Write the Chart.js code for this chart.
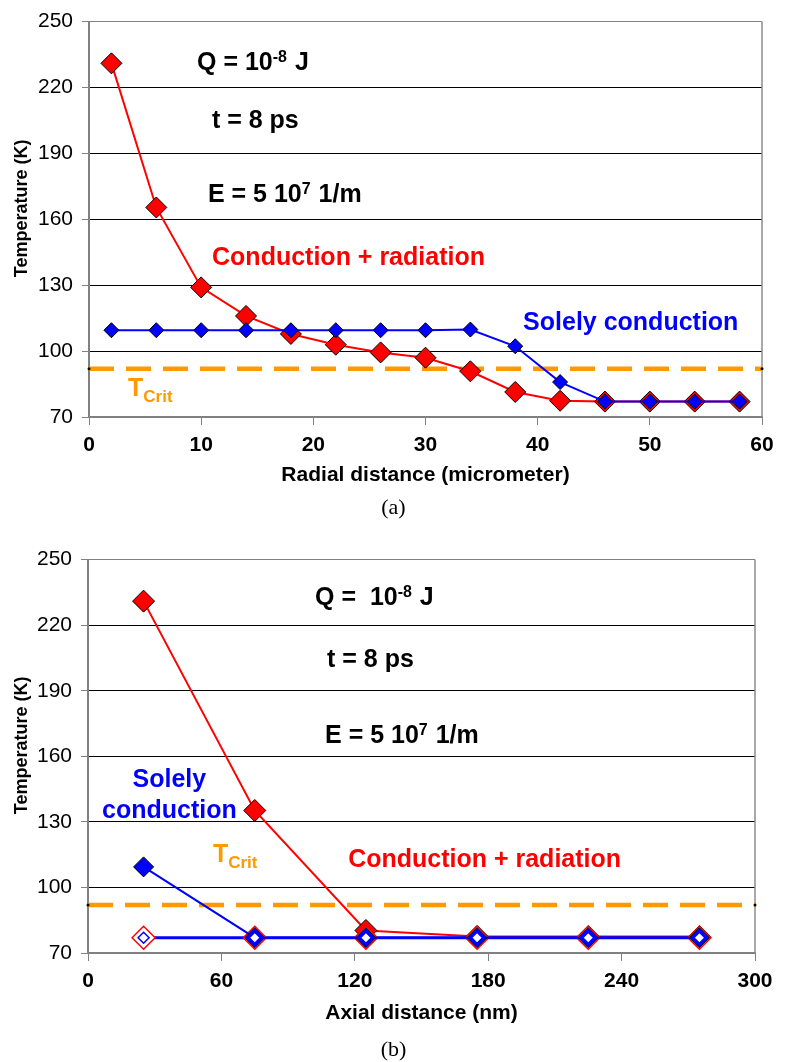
<!DOCTYPE html>
<html>
<head>
<meta charset="utf-8">
<script src="https://cdn.jsdelivr.net/npm/chart.js@4.4.1/dist/chart.umd.min.js"></script>
<style>
  body { margin: 0; background: #fff; width: 787px; height: 1062px; position: relative; overflow: hidden; }
  .panel { position: absolute; left: 0; width: 787px; height: 500px; }
  .panel canvas { display: block; }
  .caption { position: absolute; left: 0; width: 787px; text-align: center; line-height: 26px;
             font: 22px "Liberation Serif", "Times New Roman", serif; color: #000; }
</style>
</head>
<body>
<div class="panel" style="top:0"><canvas id="radial" width="787" height="500"></canvas></div>
<div class="caption" style="top:494px">(a)</div>
<div class="panel" style="top:538px"><canvas id="axial" width="787" height="500"></canvas></div>
<div class="caption" style="top:1036px">(b)</div>

<script>
const FONT = '"Liberation Sans", Arial, sans-serif';
const RED = '#ff0000';
const BLUE = '#0000ff';
const ORANGE = '#ff9900';

// (a) temperature along the radial direction, micrometer
const radialDistance = [2, 6, 10, 14, 18, 22, 26, 30, 34, 38, 42, 46, 50, 54, 58];
const radialWithRadiation = [231, 165.4, 129, 116, 107.8, 102.9, 99.4, 97, 90.8, 81.4, 77.4, 77, 77, 77, 77];
const radialConductionOnly = [109.5, 109.5, 109.5, 109.5, 109.5, 109.5, 109.5, 109.5, 109.8, 102.2, 85.9, 77, 77, 77, 77];
const radialTicks = [0, 10, 20, 30, 40, 50, 60];

// (b) temperature along the axis, nm
const axialDistance = [25, 75, 125, 175, 225, 275];
const axialWithRadiation = [231, 135.2, 80.3, 77.6, 77.5, 77.5];
const axialConductionOnly = [109.4, 77, 77, 77, 77, 77];
const axialStart = [77, 77, 77, 77, 77, 77];
const axialTicks = [0, 60, 120, 180, 240, 300];

const temperatureTicks = [70, 100, 130, 160, 190, 220, 250];
const criticalTemp = 92;

const pts = (xs, ys) => xs.map((x, i) => ({ x, y: ys[i] }));
const first = a => a[0];
const last = a => a[a.length - 1];

function diamonds(label, xs, ys, o) {
  return {
    label,
    data: pts(xs, ys),
    borderColor: o.line,
    borderWidth: o.lineWidth ?? 2,
    showLine: o.showLine ?? true,
    pointStyle: 'rectRot',
    pointRadius: o.radius,
    pointBackgroundColor: o.fill,
    pointBorderColor: o.edge ?? '#000',
    pointBorderWidth: o.edgeWidth ?? 1,
    order: o.order,
    clip: false
  };
}

function critLine(xTicks, order) {
  return {
    label: 'T crit',
    data: [{ x: first(xTicks), y: criticalTemp }, { x: last(xTicks), y: criticalTemp }],
    borderColor: ORANGE,
    borderWidth: 4.5,
    borderDash: [25, 12],
    pointRadius: 1.5,
    pointBackgroundColor: '#000',
    pointBorderWidth: 0,
    order,
    clip: false
  };
}

// text labels inside the plot, placed in data units
const notes = {
  id: 'notes',
  afterDatasetsDraw(chart, args, opts) {
    const { ctx, scales: { x, y } } = chart;
    ctx.save();
    ctx.textBaseline = 'alphabetic';
    ctx.textAlign = 'left';
    for (const n of opts.items) {
      const parts = n.parts.map(p => Array.isArray(p) ? { text: p[0], kind: p[1] } : { text: p, kind: null });
      const fontFor = k => k === 'sup' ? `bold 16px ${FONT}` : k === 'sub' ? `bold 17px ${FONT}` : `bold 25px ${FONT}`;
      let width = 0;
      for (const p of parts) { ctx.font = fontFor(p.kind); width += ctx.measureText(p.text).width; }
      let px = x.getPixelForValue(n.x);
      if (n.center) px -= width / 2;
      const base = y.getPixelForValue(n.y) + 9;
      ctx.fillStyle = n.color || '#000';
      for (const p of parts) {
        ctx.font = fontFor(p.kind);
        const dy = p.kind === 'sup' ? -8 : p.kind === 'sub' ? 6 : 0;
        ctx.fillText(p.text, px, base + dy);
        px += ctx.measureText(p.text).width + (p.kind === 'sup' ? 1 : 0);
      }
    }
    ctx.restore();
  }
};

// right-hand edge of the plot box and the rotated y-axis title
const frame = {
  id: 'frame',
  beforeDatasetsDraw(chart) {
    const { ctx, chartArea: a } = chart;
    ctx.save();
    ctx.strokeStyle = '#8c8c8c';
    ctx.lineWidth = 1.5;
    ctx.beginPath();
    ctx.moveTo(a.right, a.top);
    ctx.lineTo(a.right, a.bottom);
    ctx.stroke();
    ctx.restore();
  },
  afterDraw(chart, args, opts) {
    const { ctx, chartArea: a } = chart;
    ctx.save();
    ctx.translate(22, (a.top + a.bottom) / 2 - 11);
    ctx.rotate(-Math.PI / 2);
    ctx.font = `bold 18px ${FONT}`;
    ctx.fillStyle = '#000';
    ctx.textAlign = 'center';
    ctx.textBaseline = 'middle';
    ctx.fillText(opts.yTitle, 0, 0);
    ctx.restore();
  }
};

function makeChart(id, cfg) {
  const { datasets, xTicks, xTitle, yWidth, xHeight, padRight, items } = cfg;
  return new Chart(document.getElementById(id), {
    type: 'line',
    data: { datasets },
    options: {
      responsive: false,
      animation: false,
      devicePixelRatio: 1,
      layout: { autoPadding: false, padding: { top: 17, right: padRight, left: 0, bottom: 0 } },
      plugins: {
        legend: { display: false },
        tooltip: { enabled: false },
        notes: { items },
        frame: { yTitle: 'Temperature (K)' }
      },
      scales: {
        x: {
          type: 'linear',
          min: first(xTicks),
          max: last(xTicks),
          afterBuildTicks: s => { s.ticks = xTicks.map(v => ({ value: v })); },
          afterFit: s => { s.height = xHeight; },
          grid: { drawOnChartArea: false, tickLength: 8, color: '#808080' },
          border: { color: '#808080', width: 2 },
          ticks: { color: '#000', padding: 8, maxRotation: 0, font: { family: FONT, size: 21, weight: 'bold' } },
          title: { display: true, text: xTitle, color: '#000', padding: { top: 0, bottom: 12 },
                   font: { family: FONT, size: 21, weight: 'bold' } }
        },
        y: {
          type: 'linear',
          min: first(temperatureTicks),
          max: last(temperatureTicks),
          afterBuildTicks: s => { s.ticks = temperatureTicks.map(v => ({ value: v })); },
          afterFit: s => { s.width = yWidth; },
          grid: {
            color: c => c.tick && c.tick.value === last(temperatureTicks) ? '#808080' : '#000',
            tickColor: '#808080',
            tickLength: 7
          },
          border: { color: '#808080', width: 2 },
          ticks: { color: '#000', padding: 9, font: { family: FONT, size: 21 } }
        }
      }
    },
    plugins: [frame, notes]
  });
}

makeChart('radial', {
  xTicks: radialTicks,
  xTitle: 'Radial distance (micrometer)',
  yWidth: 89,
  xHeight: 83,
  padRight: 25,
  datasets: [
    diamonds('Solely conduction', radialDistance, radialConductionOnly, { line: BLUE, fill: BLUE, radius: 7.5, order: 0 }),
    diamonds('Conduction + radiation', radialDistance, radialWithRadiation, { line: RED, fill: RED, radius: 10.5, order: 1 }),
    critLine(radialTicks, 2)
  ],
  items: [
    { x: 9.63, y: 232, parts: ['Q = 10', ['-8', 'sup'], ' J'] },
    { x: 10.96, y: 205.5, parts: ['t = 8 ps'] },
    { x: 10.6, y: 172, parts: ['E = 5 10', ['7', 'sup'], ' 1/m'] },
    { x: 10.97, y: 143.4, color: RED, parts: ['Conduction + radiation'] },
    { x: 38.7, y: 113.6, color: BLUE, parts: ['Solely conduction'] },
    { x: 3.48, y: 83.7, color: ORANGE, parts: ['T', ['Crit', 'sub']] }
  ]
});

makeChart('axial', {
  xTicks: axialTicks,
  xTitle: 'Axial distance (nm)',
  yWidth: 88,
  xHeight: 85,
  padRight: 32,
  datasets: [
    diamonds('start inner', axialDistance, axialStart, { line: BLUE, fill: '#fff', edge: BLUE, edgeWidth: 1.5, radius: 5.5, showLine: false, order: 0 }),
    diamonds('Solely conduction', axialDistance, axialConductionOnly, { line: BLUE, fill: BLUE, radius: 10, order: 1 }),
    diamonds('start', axialDistance, axialStart, { line: BLUE, lineWidth: 3, fill: '#fff', edge: RED, edgeWidth: 1.5, radius: 11.5, order: 2 }),
    diamonds('Conduction + radiation', axialDistance, axialWithRadiation, { line: RED, fill: RED, radius: 11, order: 3 }),
    critLine(axialTicks, 4)
  ],
  items: [
    { x: 102.1, y: 233.3, parts: ['Q =  10', ['-8', 'sup'], ' J'] },
    { x: 107.5, y: 204.8, parts: ['t = 8 ps'] },
    { x: 106.6, y: 170.4, parts: ['E = 5 10', ['7', 'sup'], ' 1/m'] },
    { x: 36.6, y: 150, center: true, color: BLUE, parts: ['Solely'] },
    { x: 36.6, y: 136, center: true, color: BLUE, parts: ['conduction'] },
    { x: 56.2, y: 115.6, color: ORANGE, parts: ['T', ['Crit', 'sub']] },
    { x: 117, y: 113.4, color: RED, parts: ['Conduction + radiation'] }
  ]
});
</script>
</body>
</html>
